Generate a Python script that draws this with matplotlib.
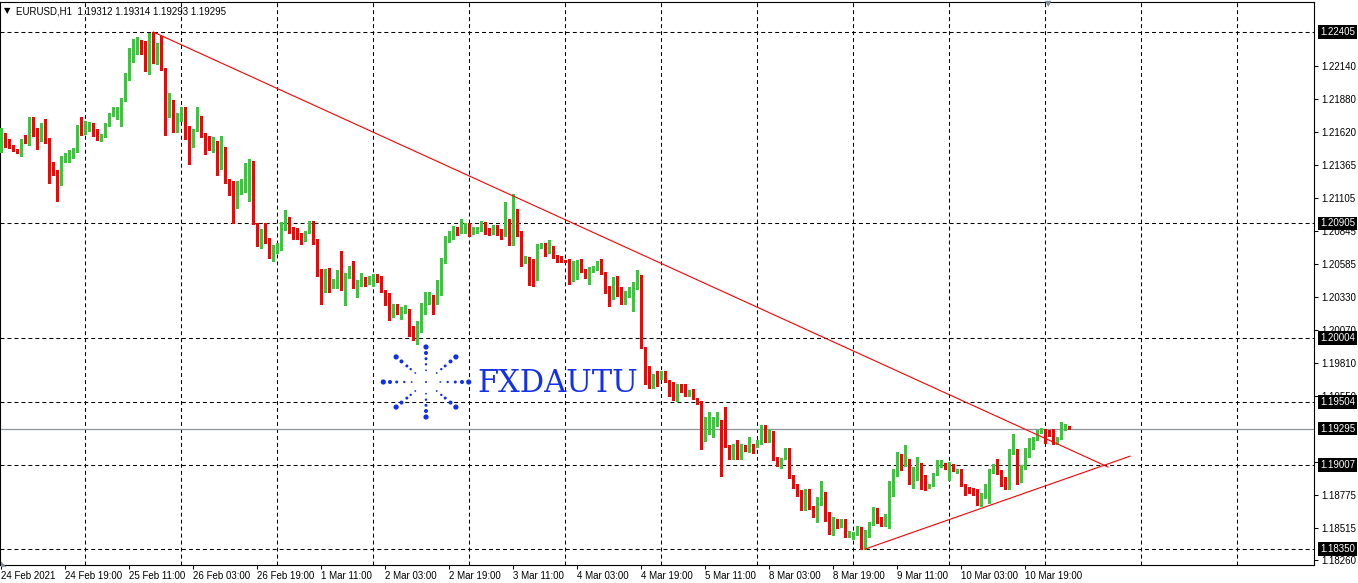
import numpy as np
import matplotlib
matplotlib.use("Agg")
import matplotlib.pyplot as plt
import matplotlib.transforms as mtransforms

plt.rcParams['font.family'] = ['Liberation Sans', 'DejaVu Sans']

# EURUSD H1, first bar = 24 Feb 2021 03:00
opens = [
    1.21542, 1.21583, 1.21549, 1.21510, 1.21479, 1.21471, 1.21562, 1.21542, 1.21680, 1.21620,
    1.21573, 1.21625, 1.21549, 1.21322, 1.21315, 1.21213, 1.21414, 1.21419, 1.21448, 1.21479,
    1.21659, 1.21620, 1.21633, 1.21688, 1.21615, 1.21568, 1.21596, 1.21680, 1.21758, 1.21771,
    1.21805, 1.21868, 1.22079, 1.22196, 1.22272, 1.22293, 1.22246, 1.22110, 1.22398, 1.22222,
    1.22282, 1.22110, 1.21792, 1.21849, 1.21620, 1.21745, 1.21810, 1.21573, 1.21568, 1.21633,
    1.21719, 1.21589, 1.21544, 1.21528, 1.21539, 1.21335, 1.21492, 1.21244, 1.21127, 1.21056,
    1.21140, 1.21231, 1.21239, 1.21380, 1.20905, 1.20790, 1.20824, 1.20767, 1.20642, 1.20720,
    1.20746, 1.20905, 1.20913, 1.20837, 1.20827, 1.20814, 1.20767, 1.20842, 1.20902, 1.20749,
    1.20539, 1.20375, 1.20434, 1.20429, 1.20446, 1.20532, 1.20396, 1.20488, 1.20530, 1.20396,
    1.20451, 1.20462, 1.20434, 1.20485, 1.20498, 1.20488, 1.20375, 1.20302, 1.20211, 1.20263,
    1.20201, 1.20219, 1.20224, 1.20062, 1.20018, 1.20060, 1.20232, 1.20310, 1.20336, 1.20279,
    1.20420, 1.20628, 1.20778, 1.20793, 1.20853, 1.20827, 1.20889, 1.20905, 1.20832, 1.20853,
    1.20858, 1.20910, 1.20832, 1.20827, 1.20884, 1.20832, 1.20816, 1.20934, 1.20741, 1.21007,
    1.20819, 1.20610, 1.20631, 1.20539, 1.20532, 1.20722, 1.20728, 1.20696, 1.20722, 1.20649,
    1.20612, 1.20608, 1.20623, 1.20462, 1.20589, 1.20615, 1.20539, 1.20480, 1.20545, 1.20553,
    1.20610, 1.20517, 1.20407, 1.20323, 1.20493, 1.20341, 1.20310, 1.20350, 1.20378, 1.20394,
    1.20436, 1.19932, 1.19684, 1.19653, 1.19702, 1.19689, 1.19744, 1.19671, 1.19658, 1.19601,
    1.19637, 1.19632, 1.19554, 1.19593, 1.19528, 1.19502, 1.19265, 1.19267, 1.19296, 1.19319,
    1.19358, 1.19181, 1.19160, 1.19063, 1.19136, 1.19115, 1.19136, 1.19115, 1.19160, 1.19163,
    1.19189, 1.19267, 1.19262, 1.19272, 1.19063, 1.19006, 1.19058, 1.19123, 1.18915, 1.18843,
    1.18775, 1.18714, 1.18797, 1.18680, 1.18609, 1.18705, 1.18792, 1.18583, 1.18479, 1.18575,
    1.18528, 1.18583, 1.18453, 1.18445, 1.18471, 1.18510, 1.18380, 1.18458, 1.18541, 1.18654,
    1.18575, 1.18536, 1.18567, 1.18802, 1.18960, 1.19058, 1.19006, 1.19045, 1.18870, 1.18920,
    1.19019, 1.18855, 1.18850, 1.18855, 1.18933, 1.19001, 1.19019, 1.19006, 1.19011, 1.18959,
    1.18941, 1.18855, 1.18823, 1.18818, 1.18792, 1.18750, 1.18771, 1.18844, 1.18960, 1.19006,
    1.18960, 1.18907, 1.18850, 1.19102, 1.19131, 1.18960, 1.18985, 1.19079, 1.19136, 1.19210,
    1.19267, 1.19288, 1.19257, 1.19249, 1.19189, 1.19220, 1.19290, 1.19312,
]
highs = [
    1.21654, 1.21615, 1.21562, 1.21515, 1.21489, 1.21568, 1.21596, 1.21742, 1.21742, 1.21649,
    1.21688, 1.21719, 1.21570, 1.21382, 1.21320, 1.21432, 1.21453, 1.21479, 1.21497, 1.21672,
    1.21742, 1.21709, 1.21701, 1.21690, 1.21641, 1.21602, 1.21688, 1.21766, 1.21818, 1.21813,
    1.21886, 1.22084, 1.22280, 1.22353, 1.22366, 1.22345, 1.22332, 1.22400, 1.22405, 1.22319,
    1.22376, 1.22123, 1.21924, 1.21870, 1.21771, 1.21818, 1.21818, 1.21664, 1.21646, 1.21818,
    1.21750, 1.21609, 1.21589, 1.21583, 1.21549, 1.21589, 1.21502, 1.21249, 1.21236, 1.21236,
    1.21255, 1.21375, 1.21406, 1.21393, 1.20907, 1.20858, 1.20910, 1.20788, 1.20733, 1.20754,
    1.20915, 1.21007, 1.20952, 1.20876, 1.20871, 1.20832, 1.20845, 1.20921, 1.20921, 1.20778,
    1.20546, 1.20545, 1.20553, 1.20467, 1.20540, 1.20689, 1.20514, 1.20566, 1.20610, 1.20461,
    1.20514, 1.20483, 1.20493, 1.20504, 1.20508, 1.20492, 1.20380, 1.20355, 1.20271, 1.20271,
    1.20245, 1.20263, 1.20232, 1.20102, 1.20141, 1.20279, 1.20362, 1.20367, 1.20341, 1.20461,
    1.20636, 1.20804, 1.20842, 1.20884, 1.20876, 1.20941, 1.20905, 1.20905, 1.20879, 1.20876,
    1.20923, 1.20915, 1.20866, 1.20889, 1.20889, 1.20858, 1.21075, 1.20941, 1.21132, 1.21015,
    1.20845, 1.20649, 1.20644, 1.20623, 1.20741, 1.20749, 1.20754, 1.20775, 1.20725, 1.20654,
    1.20649, 1.20612, 1.20625, 1.20610, 1.20615, 1.20623, 1.20550, 1.20558, 1.20571, 1.20610,
    1.20623, 1.20519, 1.20415, 1.20485, 1.20493, 1.20402, 1.20375, 1.20407, 1.20441, 1.20537,
    1.20501, 1.19937, 1.19788, 1.19723, 1.19744, 1.19749, 1.19749, 1.19679, 1.19658, 1.19645,
    1.19645, 1.19645, 1.19601, 1.19606, 1.19533, 1.19510, 1.19384, 1.19423, 1.19384, 1.19428,
    1.19360, 1.19462, 1.19163, 1.19176, 1.19202, 1.19176, 1.19162, 1.19228, 1.19176, 1.19202,
    1.19325, 1.19319, 1.19288, 1.19275, 1.19071, 1.19063, 1.19141, 1.19144, 1.18933, 1.18856,
    1.18810, 1.18818, 1.18823, 1.18688, 1.18758, 1.18881, 1.18797, 1.18641, 1.18601, 1.18583,
    1.18588, 1.18585, 1.18489, 1.18484, 1.18528, 1.18523, 1.18497, 1.18562, 1.18680, 1.18672,
    1.18601, 1.18627, 1.18881, 1.18980, 1.19110, 1.19097, 1.19163, 1.19058, 1.18993, 1.19071,
    1.19027, 1.18928, 1.18863, 1.18949, 1.19045, 1.19045, 1.19024, 1.19032, 1.19019, 1.18980,
    1.18980, 1.18863, 1.18836, 1.18828, 1.18823, 1.18792, 1.18863, 1.18980, 1.19019, 1.19053,
    1.18967, 1.18915, 1.19136, 1.19249, 1.19136, 1.19006, 1.19141, 1.19220, 1.19228, 1.19280,
    1.19298, 1.19288, 1.19285, 1.19290, 1.19228, 1.19345, 1.19332, 1.19314,
]
lows = [
    1.21463, 1.21505, 1.21495, 1.21468, 1.21458, 1.21432, 1.21531, 1.21515, 1.21589, 1.21487,
    1.21549, 1.21534, 1.21221, 1.21283, 1.21080, 1.21205, 1.21388, 1.21385, 1.21414, 1.21463,
    1.21594, 1.21602, 1.21630, 1.21589, 1.21557, 1.21549, 1.21583, 1.21667, 1.21745, 1.21724,
    1.21667, 1.21862, 1.22027, 1.22170, 1.22233, 1.22230, 1.22097, 1.22076, 1.22162, 1.22155,
    1.22105, 1.21596, 1.21737, 1.21618, 1.21617, 1.21706, 1.21568, 1.21369, 1.21500, 1.21625,
    1.21581, 1.21445, 1.21479, 1.21466, 1.21286, 1.21328, 1.21218, 1.21125, 1.20907, 1.21028,
    1.21136, 1.21148, 1.21082, 1.20897, 1.20728, 1.20707, 1.20754, 1.20636, 1.20610, 1.20675,
    1.20694, 1.20850, 1.20827, 1.20783, 1.20780, 1.20741, 1.20764, 1.20832, 1.20741, 1.20493,
    1.20271, 1.20367, 1.20367, 1.20394, 1.20394, 1.20383, 1.20266, 1.20472, 1.20394, 1.20323,
    1.20415, 1.20415, 1.20427, 1.20415, 1.20446, 1.20367, 1.20263, 1.20149, 1.20172, 1.20193,
    1.20154, 1.20198, 1.20023, 1.19992, 1.19955, 1.20054, 1.20193, 1.20271, 1.20193, 1.20271,
    1.20341, 1.20592, 1.20759, 1.20778, 1.20811, 1.20827, 1.20832, 1.20804, 1.20819, 1.20832,
    1.20842, 1.20824, 1.20811, 1.20819, 1.20811, 1.20785, 1.20804, 1.20733, 1.20733, 1.20804,
    1.20571, 1.20592, 1.20420, 1.20415, 1.20462, 1.20707, 1.20649, 1.20675, 1.20636, 1.20602,
    1.20602, 1.20600, 1.20428, 1.20449, 1.20467, 1.20524, 1.20472, 1.20428, 1.20519, 1.20537,
    1.20506, 1.20357, 1.20258, 1.20310, 1.20331, 1.20271, 1.20271, 1.20323, 1.20219, 1.20389,
    1.19925, 1.19645, 1.19611, 1.19611, 1.19632, 1.19684, 1.19658, 1.19554, 1.19520, 1.19507,
    1.19580, 1.19549, 1.19549, 1.19523, 1.19486, 1.19136, 1.19197, 1.19254, 1.19228, 1.19314,
    1.18922, 1.19150, 1.19058, 1.19058, 1.19058, 1.19053, 1.19115, 1.19110, 1.19105, 1.19150,
    1.19176, 1.19189, 1.19189, 1.19045, 1.18999, 1.18988, 1.19053, 1.18907, 1.18830, 1.18765,
    1.18654, 1.18659, 1.18667, 1.18601, 1.18562, 1.18697, 1.18570, 1.18471, 1.18458, 1.18515,
    1.18523, 1.18445, 1.18445, 1.18432, 1.18463, 1.18354, 1.18350, 1.18445, 1.18536, 1.18557,
    1.18531, 1.18528, 1.18518, 1.18768, 1.18922, 1.18967, 1.19001, 1.18862, 1.18829, 1.18888,
    1.18823, 1.18810, 1.18829, 1.18844, 1.18928, 1.18993, 1.18980, 1.18888, 1.18959, 1.18949,
    1.18844, 1.18771, 1.18792, 1.18771, 1.18698, 1.18688, 1.18750, 1.18714, 1.18949, 1.18941,
    1.18844, 1.18818, 1.18818, 1.19097, 1.18863, 1.18876, 1.18980, 1.19071, 1.19131, 1.19204,
    1.19257, 1.19183, 1.19238, 1.19176, 1.19176, 1.19215, 1.19283, 1.19293,
]
closes = [
    1.21583, 1.21549, 1.21510, 1.21479, 1.21471, 1.21562, 1.21542, 1.21680, 1.21620, 1.21573,
    1.21625, 1.21549, 1.21322, 1.21315, 1.21213, 1.21414, 1.21419, 1.21448, 1.21479, 1.21659,
    1.21596, 1.21641, 1.21690, 1.21615, 1.21568, 1.21596, 1.21680, 1.21758, 1.21771, 1.21805,
    1.21868, 1.22079, 1.22196, 1.22272, 1.22293, 1.22246, 1.22110, 1.22398, 1.22222, 1.22282,
    1.22110, 1.21792, 1.21849, 1.21620, 1.21745, 1.21810, 1.21573, 1.21568, 1.21633, 1.21719,
    1.21589, 1.21544, 1.21528, 1.21539, 1.21335, 1.21492, 1.21244, 1.21127, 1.21056, 1.21140,
    1.21231, 1.21239, 1.21380, 1.20905, 1.20790, 1.20824, 1.20767, 1.20642, 1.20720, 1.20746,
    1.20905, 1.20913, 1.20837, 1.20827, 1.20814, 1.20767, 1.20842, 1.20902, 1.20749, 1.20539,
    1.20375, 1.20434, 1.20429, 1.20446, 1.20532, 1.20396, 1.20488, 1.20530, 1.20396, 1.20451,
    1.20462, 1.20434, 1.20485, 1.20498, 1.20488, 1.20375, 1.20302, 1.20211, 1.20263, 1.20201,
    1.20219, 1.20224, 1.20062, 1.20018, 1.20060, 1.20232, 1.20310, 1.20336, 1.20279, 1.20420,
    1.20628, 1.20778, 1.20793, 1.20853, 1.20827, 1.20889, 1.20905, 1.20832, 1.20853, 1.20858,
    1.20910, 1.20832, 1.20827, 1.20884, 1.20832, 1.20816, 1.20934, 1.20741, 1.21007, 1.20819,
    1.20610, 1.20631, 1.20539, 1.20532, 1.20722, 1.20728, 1.20696, 1.20722, 1.20649, 1.20605,
    1.20604, 1.20604, 1.20462, 1.20589, 1.20610, 1.20532, 1.20480, 1.20550, 1.20558, 1.20605,
    1.20519, 1.20402, 1.20310, 1.20480, 1.20336, 1.20310, 1.20355, 1.20383, 1.20399, 1.20441,
    1.19932, 1.19679, 1.19653, 1.19697, 1.19637, 1.19741, 1.19663, 1.19663, 1.19601, 1.19632,
    1.19619, 1.19554, 1.19585, 1.19528, 1.19497, 1.19262, 1.19280, 1.19301, 1.19314, 1.19358,
    1.19176, 1.19157, 1.19063, 1.19136, 1.19110, 1.19136, 1.19123, 1.19157, 1.19115, 1.19189,
    1.19267, 1.19257, 1.19280, 1.19058, 1.19053, 1.19058, 1.19128, 1.18915, 1.18843, 1.18778,
    1.18714, 1.18797, 1.18680, 1.18609, 1.18750, 1.18792, 1.18575, 1.18479, 1.18567, 1.18528,
    1.18583, 1.18450, 1.18468, 1.18479, 1.18510, 1.18380, 1.18458, 1.18549, 1.18648, 1.18567,
    1.18536, 1.18572, 1.18807, 1.18967, 1.19058, 1.19006, 1.19045, 1.18870, 1.18920, 1.19019,
    1.18855, 1.18850, 1.18863, 1.18941, 1.19006, 1.19019, 1.18993, 1.19019, 1.18967, 1.18975,
    1.18850, 1.18810, 1.18802, 1.18792, 1.18766, 1.18784, 1.18855, 1.18967, 1.19006, 1.18954,
    1.18902, 1.18850, 1.19105, 1.19136, 1.18960, 1.18993, 1.19079, 1.19141, 1.19210, 1.19272,
    1.19288, 1.19249, 1.19249, 1.19189, 1.19220, 1.19293, 1.19314, 1.19295,
]

# time axis labels (bar number -> label)
label_bars = [0, 16, 32, 48, 64, 80, 96, 112, 128, 144, 160, 176, 192, 208, 224, 240, 256]
time_labels = ["24 Feb 2021", "24 Feb 19:00", "25 Feb 11:00", "26 Feb 03:00", "26 Feb 19:00",
               "1 Mar 11:00", "2 Mar 03:00", "2 Mar 19:00", "3 Mar 11:00", "4 Mar 03:00",
               "4 Mar 19:00", "5 Mar 11:00", "8 Mar 03:00", "8 Mar 19:00", "9 Mar 11:00",
               "10 Mar 03:00", "10 Mar 19:00"]
# bars where a new day starts (grid)
day_starts = [21, 45, 69, 93, 117, 141, 165, 189, 213, 237, 261, 285, 309]

price_ticks = [1.22140, 1.21880, 1.21620, 1.21365, 1.21105, 1.20845, 1.20585, 1.20330,
               1.20070, 1.19810, 1.19550, 1.19035, 1.18775, 1.18515, 1.18260]
level_prices = [1.22405, 1.20905, 1.20004, 1.19504, 1.19007, 1.18350]
bid = 1.19295

# trend lines (bar, price)
down_bars = [38, 276.7]
down_prices = [1.22405, 1.18993]
up_bars = [216, 282.2]
up_prices = [1.18350, 1.19078]

W, H = 1358, 583
fig = plt.figure(figsize=(W / 100, H / 100), dpi=100)
fig.patch.set_facecolor('white')
ax = fig.add_axes([0, 1 - 565 / H, 1314 / W, 563 / H])
ax.set_facecolor('white')

o = np.array(opens)
hi = np.array(highs)
lo = np.array(lows)
c = np.array(closes)
idx = np.arange(len(c))
cols = np.where(c >= o, '#32CD32', '#FF0000')

dash = (0, (3.8, 2.9))
for d in day_starts:
    ax.axvline(d, color='black', lw=0.75, linestyle=dash, zorder=1)
for p in level_prices:
    ax.axhline(p, color='black', lw=0.75, linestyle=dash, zorder=1)
ax.axhline(bid, color='#8c939b', lw=0.9, zorder=1)

ax.vlines(idx, lo, hi, colors=cols, linewidth=0.75, antialiased=False, zorder=3)
ax.bar(idx, np.maximum(np.abs(c - o), 0.00009), bottom=np.minimum(o, c), width=0.75,
       color=cols, linewidth=0, zorder=4)

ax.plot(down_bars, down_prices, color='#FF0000', lw=0.8, zorder=5)
ax.plot(up_bars, up_prices, color='#FF0000', lw=0.8, zorder=5)

ax.set_xlim(-0.325, 328.2)
ax.set_ylim(1.182246, 1.226403)

# axes look
for s in ax.spines.values():
    s.set_color('black')
    s.set_linewidth(0.8)
ax.yaxis.tick_right()
ax.set_yticks(price_ticks)
ax.set_yticklabels([f"{p:.5f}" for p in price_ticks])
ax.set_xticks(label_bars)
ax.set_xticklabels(time_labels)
for t in ax.get_xticklabels():
    t.set_ha('left')
ax.tick_params(axis='both', direction='out', length=3, width=0.75, labelsize=7, colors='black')
ax.tick_params(axis='y', pad=2)
ax.tick_params(axis='x', pad=1.5)

# price boxes on the scale
tr = mtransforms.blended_transform_factory(ax.transAxes, ax.transData)
for p in level_prices + [bid]:
    ax.text(1320 / 1314, p, f"{p:.5f}", transform=tr, ha='left', va='center', fontsize=7,
            color='white', clip_on=False, zorder=10,
            bbox=dict(boxstyle='square,pad=0.18', fc='black', ec='none'))

# header
fig.text(4 / W, 1 - 13 / H, "\u25bc", fontsize=6, va='baseline', family=['DejaVu Sans'])
fig.text(16 / W, 1 - 14 / H, "EURUSD,H1  1.19312 1.19314 1.19293 1.19295", fontsize=7,
         va='baseline')

# watermark logo
cx, cy = 426, 382
spokes = [(0, [14.3, 21.7, 29.3, 36.0, 42.7]), (180, [14.3, 21.7, 29.3, 36.0, 42.7]),
          (90, [11.7, 17.7, 23.3, 29.0, 35.0]), (270, [11.7, 17.7, 23.3, 29.0, 35.0]),
          (40, [14, 20, 25, 32, 39]), (140, [14, 20, 25, 32, 39]),
          (220, [14, 20, 25, 32, 39]), (320, [14, 20, 25, 32, 39])]
dot_d = [1.8, 2.4, 3.0, 4.0, 5.2]
lx, ly, ls = [cx / W], [1 - cy / H], [(2.0 * 0.72) ** 2]
for ang, rr in spokes:
    a = np.deg2rad(ang)
    for r, d in zip(rr, dot_d):
        lx.append((cx + r * np.cos(a)) / W)
        ly.append(1 - (cy - r * np.sin(a)) / H)
        ls.append((d * 0.72) ** 2)
ax.scatter(lx, ly, s=ls, color='#0f30f0', transform=fig.transFigure, zorder=1,
           clip_on=False, linewidths=0)
ax.text(477 / W, 1 - 392 / H, "FXDAUTU", transform=fig.transFigure, fontsize=22,
        family='DejaVu Serif', color='#1230ee', ha='left', va='baseline', zorder=1)

# small gray markers
fig.text(1048 / W, 1 - 6 / H, "\u25bc", fontsize=6, color='#7d8a96', ha='center',
         family=['DejaVu Sans'])
fig.text(1 / W, 1 - 566 / H, "\u25e3", fontsize=5, color='#7d8a96', ha='left',
         va='baseline', family=['DejaVu Sans'])

fig.savefig('out.png', dpi=100, facecolor='white')
